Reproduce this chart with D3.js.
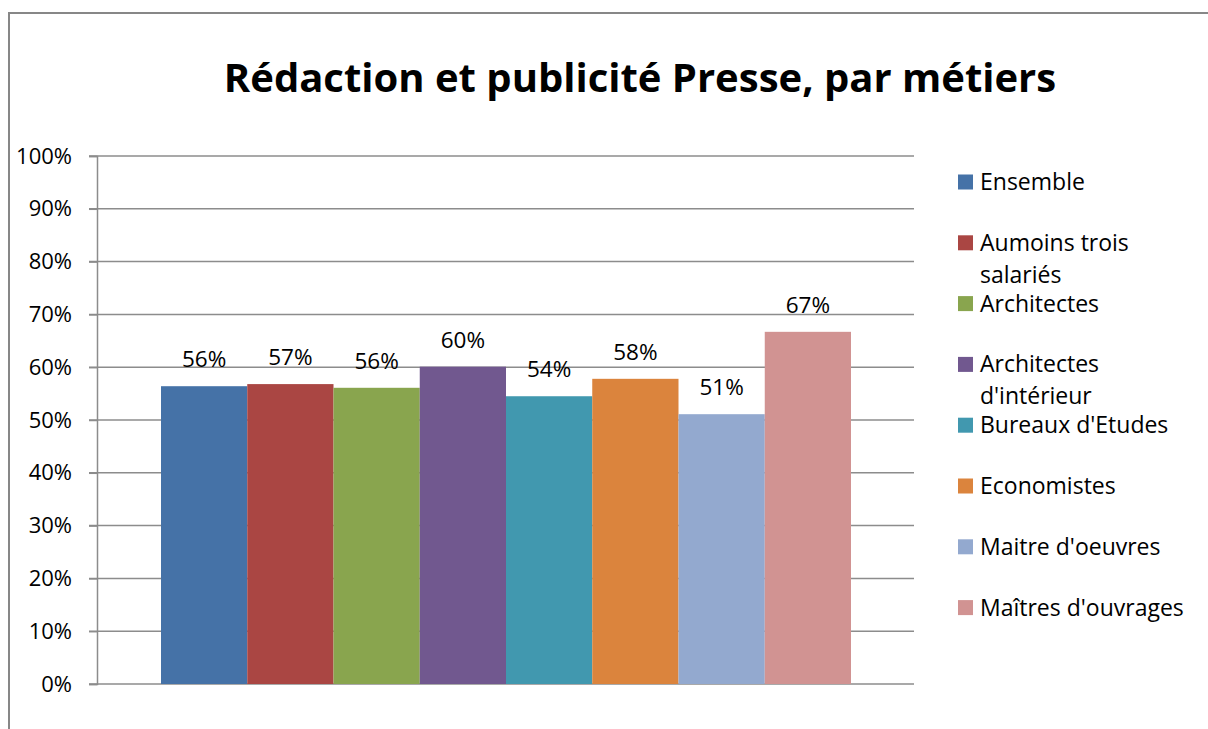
<!DOCTYPE html>
<html>
<head>
<meta charset="utf-8">
<script src="https://cdn.jsdelivr.net/npm/d3@7"></script>
<style>
  body { margin: 0; background: #fff; }
  text { font-family: "Open Sans", "Noto Sans", sans-serif; fill: #000; }
</style>
</head>
<body>
<div id="chart-area"></div>
<script>
// data
var categories = ["Ensemble", "Aumoins trois salariés", "Architectes", "Architectes d'intérieur",
                  "Bureaux d'Etudes", "Economistes", "Maitre d'oeuvres", "Maîtres d'ouvrages"];
var values = [0.564, 0.568, 0.561, 0.601, 0.545, 0.578, 0.511, 0.667];
var valueLabels = ["56%", "57%", "56%", "60%", "54%", "58%", "51%", "67%"];
var colors = ["#4572A7", "#AA4643", "#89A54E", "#71588F", "#4198AF", "#DB843D", "#93A9CF", "#D19392"];
var legendLines = [["Ensemble"], ["Aumoins trois", "salariés"], ["Architectes"], ["Architectes", "d'intérieur"],
                   ["Bureaux d'Etudes"], ["Economistes"], ["Maitre d'oeuvres"], ["Maîtres d'ouvrages"]];
var yTicks = [0, 0.1, 0.2, 0.3, 0.4, 0.5, 0.6, 0.7, 0.8, 0.9, 1];

var W = 1208, H = 729;
var plot = { left: 97, right: 914, top: 156, bottom: 684 };

var svg = d3.select("#chart-area")
  .append("svg")
    .attr("width", W)
    .attr("height", H);

// outer chart border (cut off by the window on right and bottom)
svg.append("rect")
  .attr("x", 9).attr("y", 13)
  .attr("width", W + 20).attr("height", H + 20)
  .attr("fill", "none")
  .attr("stroke", "#878787")
  .attr("stroke-width", 2);

// title
svg.append("text")
  .attr("x", 640).attr("y", 92)
  .attr("text-anchor", "middle")
  .style("font-size", "40px")
  .style("font-weight", "bold")
  .text("Rédaction et publicité Presse, par métiers");

// scales
var y = d3.scaleLinear().domain([0, 1]).range([plot.bottom, plot.top]);
var x = d3.scaleBand()
  .domain(categories)
  .range([plot.left + 64, plot.right - 63])
  .paddingInner(0);

// grid lines
svg.append("g")
  .selectAll("line")
  .data(yTicks)
  .enter().append("line")
    .attr("x1", plot.left - 8).attr("x2", plot.right)
    .attr("y1", function(d) { return y(d); })
    .attr("y2", function(d) { return y(d); })
    .attr("stroke", "#8c8c8c")
    .attr("stroke-width", 1.5);

// y axis
var yAxis = d3.axisLeft(y)
  .tickValues(yTicks)
  .tickSize(8)
  .tickFormat(d3.format(".0%"));
var yAxisGroup = svg.append("g")
  .attr("transform", "translate(" + plot.left + ",0)")
  .call(yAxis);
yAxisGroup.select(".domain").attr("stroke", "#8c8c8c").attr("stroke-width", 1.5);
yAxisGroup.selectAll(".tick line").attr("stroke", "#8c8c8c").attr("stroke-width", 1.5);
yAxisGroup.selectAll(".tick text")
  .attr("x", -25)
  .style("font-size", "22px")
  .style("font-family", "'Open Sans', 'Noto Sans', sans-serif")
  .attr("fill", "#000");

// bars
svg.append("g")
  .selectAll("rect")
  .data(values)
  .enter().append("rect")
    .attr("x", function(d, i) { return x(categories[i]); })
    .attr("y", function(d) { return y(d); })
    .attr("width", x.bandwidth())
    .attr("height", function(d) { return y(0) - y(d); })
    .attr("fill", function(d, i) { return colors[i]; });

// value labels
svg.append("g")
  .selectAll("text")
  .data(values)
  .enter().append("text")
    .attr("x", function(d, i) { return x(categories[i]) + x.bandwidth() / 2; })
    .attr("y", function(d) { return y(d) - 19; })
    .attr("text-anchor", "middle")
    .style("font-size", "22.5px")
    .text(function(d, i) { return valueLabels[i]; });

// legend
var legend = svg.append("g")
  .attr("transform", "translate(958,182)");
var items = legend.selectAll("g")
  .data(categories)
  .enter().append("g")
    .attr("transform", function(d, i) { return "translate(0," + (i * 60.8) + ")"; });
items.append("rect")
  .attr("x", 0).attr("y", -7.5)
  .attr("width", 15).attr("height", 15)
  .attr("fill", function(d, i) { return colors[i]; });
items.append("text")
  .attr("x", 22)
  .attr("y", 8)
  .style("font-size", "23px")
  .selectAll("tspan")
  .data(function(d, i) { return legendLines[i]; })
  .enter().append("tspan")
    .attr("x", 22)
    .attr("dy", function(d, j) { return j === 0 ? 0 : 32; })
    .text(function(d) { return d; });
</script>
</body>
</html>
